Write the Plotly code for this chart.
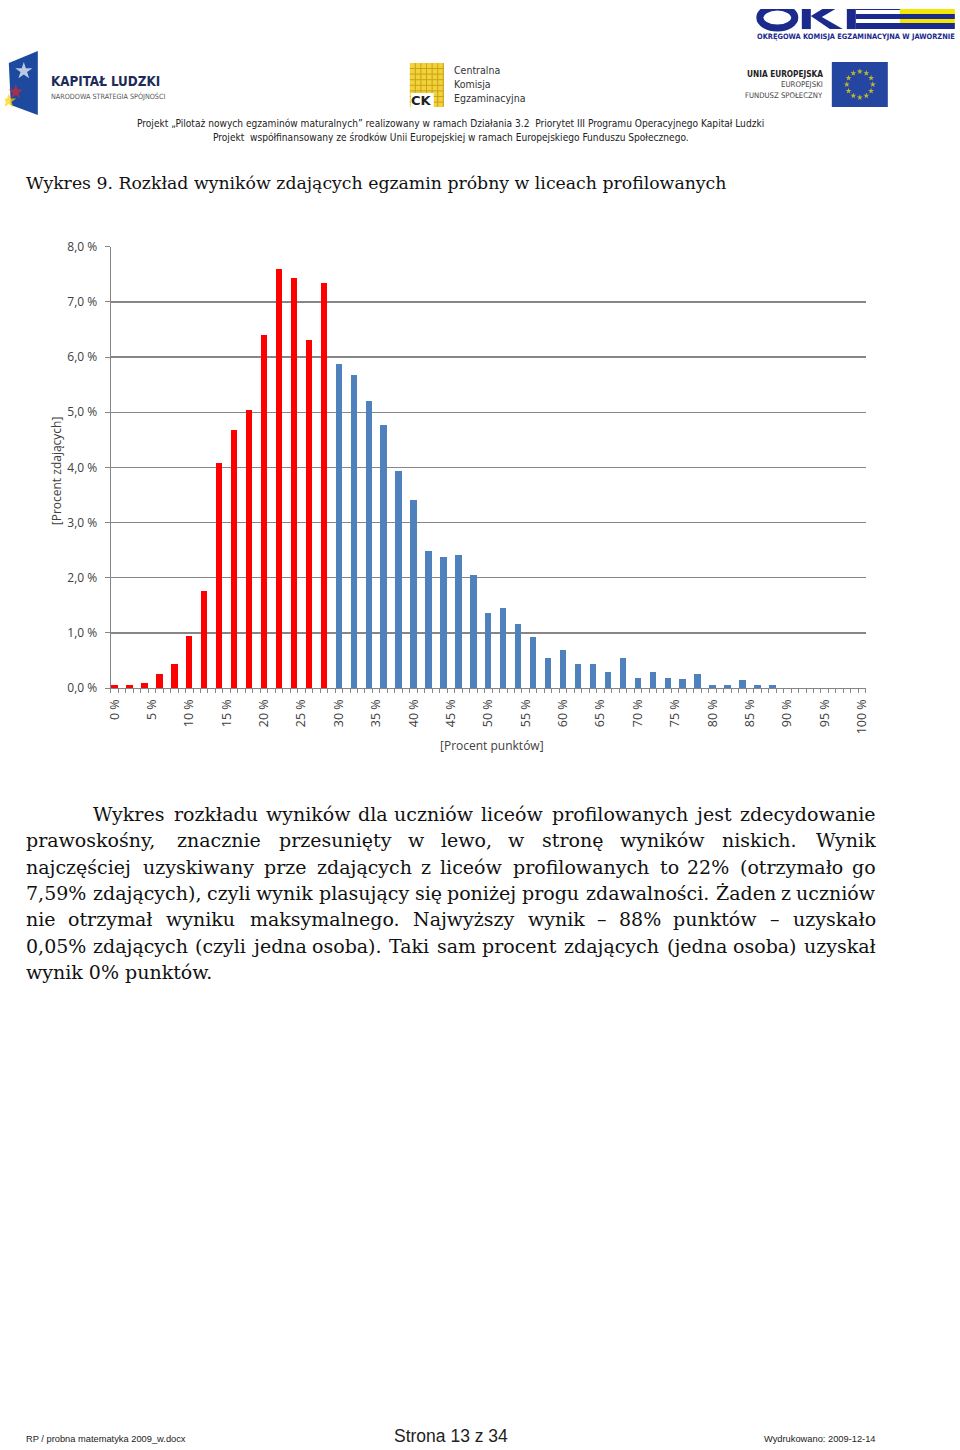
import numpy as np
import plotly.graph_objects as go

# ---------------- data ----------------
procent_punktow = list(range(0, 101, 2))
procent_zdajacych = [
    0.05, 0.05, 0.10, 0.25, 0.44, 0.94, 1.76, 4.08, 4.68, 5.05, 6.40, 7.59, 7.43, 6.31, 7.34,
    5.88, 5.68, 5.20, 4.77, 3.93, 3.41, 2.48, 2.38, 2.42, 2.05,
    1.36, 1.45, 1.17, 0.93, 0.54, 0.69, 0.43, 0.43, 0.30, 0.54,
    0.19, 0.30, 0.19, 0.16, 0.25, 0.05, 0.05, 0.15, 0.05, 0.05,
    0, 0, 0, 0, 0, 0,
]
prog_zdawalnosci = 30
x_tick_vals = list(range(0, 101, 5))
x_tick_text = [f"{v} %" for v in x_tick_vals]
y_tick_vals = list(range(0, 9))
y_tick_text = [f"{v},0 %" for v in y_tick_vals]

title_text = "Wykres 9. Rozkład wyników zdających egzamin próbny w liceach profilowanych"
y_title = "[Procent zdających]"
x_title = "[Procent punktów]"
paragraph = [
    "Wykres rozkładu wyników dla uczniów liceów profilowanych jest zdecydowanie",
    "prawoskośny, znacznie przesunięty w lewo, w stronę wyników niskich. Wynik",
    "najczęściej uzyskiwany prze zdających z liceów profilowanych to 22% (otrzymało go",
    "7,59% zdających), czyli wynik plasujący się poniżej progu zdawalności. Żaden z uczniów",
    "nie otrzymał wyniku maksymalnego. Najwyższy wynik – 88% punktów – uzyskało",
    "0,05% zdających (czyli jedna osoba). Taki sam procent zdających (jedna osoba) uzyskał",
    "wynik 0% punktów.",
]

RED = "#FF0000"
BLUE = "#4F81BD"
GRID = "#868686"
AX_TXT = "#404040"
CHART_FONT = "Open Sans, Lato, sans-serif"
SERIF = "DejaVu Serif, serif"
NARROW = "Liberation Sans Narrow, DejaVu Sans Condensed, sans-serif"

W, H = 960, 1450
# mapping of page pixels to picture pixels observed in the viewer (small frame)
AX_, SX_ = 5.2, 0.9906
AY_, SY_ = 7.9, 0.9897


def fx(ref_x):
    return (ref_x - AX_) / SX_ / W


def fy(ref_y):
    return 1 - (ref_y - AY_) / SY_ / H


colors = [RED if p < prog_zdawalnosci else BLUE for p in procent_punktow]

fig = go.Figure()
fig.add_trace(go.Bar(
    x=procent_punktow, y=procent_zdajacych, marker=dict(color=colors, line=dict(width=0)),
    width=0.85, showlegend=False, hoverinfo="x+y",
))

annotations = []
shapes = []


def ann(x, y, text, size, color="#111", family=SERIF, xanchor="left", yanchor="middle", textangle=0, bold=False):
    t = f"<b>{text}</b>" if bold else text
    annotations.append(dict(
        x=x, y=y, xref="x2", yref="y2", text=t, showarrow=False, xanchor=xanchor, yanchor=yanchor,
        textangle=textangle, font=dict(size=size, color=color, family=family), borderpad=0,
    ))


def rect(x0, y0, x1, y1, fill):
    shapes.append(dict(type="rect", xref="x2", yref="y2", x0=x0, y0=y0, x1=x1, y1=y1,
                       fillcolor=fill, line=dict(width=0), layer="below"))


def path(d, fill):
    shapes.append(dict(type="path", xref="x2", yref="y2", path=d, fillcolor=fill,
                       line=dict(width=0), layer="below"))


# ---------------- header logos ----------------
OKE_BLUE = "#1B2A8C"
OKE_YEL = "#F3E600"
rect(900, 8, 955, 26, OKE_YEL)
shapes.append(dict(type="circle", xref="x2", yref="y2", x0=760, y0=6, x1=795, y1=27,
                   fillcolor="white", line=dict(color=OKE_BLUE, width=7), layer="below"))
rect(802, 4, 811, 28, OKE_BLUE)
path("M 811 15 L 829 4 L 842 4 L 822 16 L 843 28 L 830 28 Z", OKE_BLUE)
rect(847, 4, 856, 28, OKE_BLUE)
rect(856, 4, 900, 9, OKE_BLUE)
rect(856, 13, 955, 18, OKE_BLUE)
rect(856, 22, 955, 28, OKE_BLUE)
ann(856, 35, "OKRĘGOWA KOMISJA EGZAMINACYJNA W JAWORZNIE", 7.4, OKE_BLUE, NARROW, xanchor="center", bold=True)

# Kapitał Ludzki logo
KL_BLUE = "#1D4A9E"
path("M 9 62 L 38 50 L 38 114 L 11 104 Z", KL_BLUE)
ann(50, 81, "KAPITAŁ LUDZKI", 13.3, "#1C2B5A", NARROW, bold=True)
ann(50, 96, "NARODOWA STRATEGIA SPÓJNOŚCI", 7.2, "#555555", NARROW)

# CKE logo
rect(410, 62, 444, 106, "#F2D23A")
for gx in np.arange(415.5, 444, 5.6):
    shapes.append(dict(type="line", xref="x2", yref="y2", x0=gx, x1=gx, y0=62, y1=106,
                       line=dict(color="#C9A21A", width=1), layer="below"))
for gy in np.arange(67.5, 106, 5.6):
    shapes.append(dict(type="line", xref="x2", yref="y2", x0=410, x1=444, y0=gy, y1=gy,
                       line=dict(color="#C9A21A", width=1), layer="below"))
rect(411, 92, 434, 106, "white")
ann(422, 99.5, "CK", 13, "#222222", "DejaVu Sans, sans-serif", xanchor="center", bold=True)
ann(453, 69, "Centralna", 10.5, "#333333", NARROW)
ann(453, 83, "Komisja", 10.5, "#333333", NARROW)
ann(453, 97, "Egzaminacyjna", 10.5, "#333333", NARROW)

# EU logo
ann(824, 73, "UNIA EUROPEJSKA", 8.2, "#222222", NARROW, xanchor="right", bold=True)
ann(824, 84, "EUROPEJSKI", 7.8, "#444444", NARROW, xanchor="right")
ann(824, 95, "FUNDUSZ SPOŁECZNY", 7.7, "#444444", NARROW, xanchor="right")
rect(832, 61, 888, 106, "#2446A0")

# project lines
ann(451, 123, "Projekt „Pilotaż nowych egzaminów maturalnych” realizowany w ramach Działania 3.2&nbsp; Priorytet III Programu Operacyjnego Kapitał Ludzki",
    10.1, "#222222", NARROW, xanchor="center")
ann(451, 137, "Projekt&nbsp; współfinansowany ze środków Unii Europejskiej w ramach Europejskiego Funduszu Społecznego.",
    10.1, "#222222", NARROW, xanchor="center")

# decorative stars (KL + EU flag)
ang = np.linspace(0, 2 * np.pi, 13)[:-1]
star_x = list(860 + 13 * np.cos(ang)) + [24, 16, 9]
star_y = list(83.5 + 13 * np.sin(ang)) + [70, 91, 100]
star_c = ["#FFE500"] * 12 + ["white", "#E3242B", "#FFD200"]
star_s = [4.5] * 12 + [13, 11, 11]
fig.add_trace(go.Scatter(x=star_x, y=star_y, xaxis="x2", yaxis="y2", mode="markers",
                         marker=dict(symbol="star", color=star_c, size=star_s, line=dict(width=0)),
                         showlegend=False, hoverinfo="skip"))

# ---------------- title ----------------
ann(25, 182, title_text, 17.3, "#111111", SERIF)

# ---------------- axis titles ----------------
ann(57, 470, y_title, 12, AX_TXT, CHART_FONT, xanchor="center", textangle=-90)
ann(492, 745, x_title, 12, AX_TXT, CHART_FONT, xanchor="center")

# ---------------- paragraph ----------------
CW = {' ': 0.318, ',': 0.318, '.': 0.318, '(': 0.39, ')': 0.39, '%': 0.95, '–': 0.5,
      'i': 0.32, 'l': 0.32, 'j': 0.32, 'ł': 0.34, 'f': 0.37, 't': 0.40, 'r': 0.48,
      's': 0.51, 'ś': 0.51, 'z': 0.53, 'ż': 0.53, 'm': 0.95, 'w': 0.86, 'y': 0.565,
      'v': 0.565, 'x': 0.565, 'k': 0.61, 'c': 0.56, 'ć': 0.56, 'e': 0.59, 'ę': 0.59,
      'a': 0.6, 'ą': 0.6, 'o': 0.6, 'ó': 0.6, 'n': 0.644, 'ń': 0.644, 'u': 0.644,
      'h': 0.644, 'p': 0.64, 'b': 0.64, 'd': 0.64, 'g': 0.64, 'q': 0.64, 'W': 1.1, 'N': 0.75}
CW_SCALE = 1.03


def char_w(ch):
    if ch in CW:
        v = CW[ch]
    elif ch.isdigit():
        v = 0.636
    elif ch.isupper():
        v = 0.73
    else:
        v = 0.6
    return v * CW_SCALE


P_SIZE = 19
P_X0, P_X1 = 25, 877
line_y = [814, 840, 867, 893, 919, 946, 972]


def justify(text, x0, x1, y, size):
    words = text.split(" ")
    ws = [sum(char_w(c) for c in w) * size for w in words]
    gap = (x1 - x0 - sum(ws)) / (len(words) - 1)
    x = x0
    for i, (w, wd) in enumerate(zip(words, ws)):
        if i == 0:
            ann(x0, y, w, size, "#111111", SERIF, xanchor="left")
        elif i == len(words) - 1:
            ann(x1, y, w, size, "#111111", SERIF, xanchor="right")
        else:
            ann(x + wd / 2, y, w, size, "#111111", SERIF, xanchor="center")
        x += wd + gap


for i, (txt, y) in enumerate(zip(paragraph, line_y)):
    x0 = 92 if i == 0 else P_X0
    if i < len(paragraph) - 1:
        justify(txt, x0, P_X1, y, P_SIZE)
    else:
        ann(x0, y, txt, P_SIZE, "#111111", SERIF)

# ---------------- footer ----------------
FOOT = "Liberation Sans, Arial, sans-serif"
ann(25, 1439.5, "RP / probna matematyka 2009_w.docx", 9.3, "#222222", FOOT)
ann(451, 1436.5, "Strona 13 z 34", 17.5, "#222222", FOOT, xanchor="center")
ann(877, 1439.5, "Wydrukowano: 2009-12-14", 9.3, "#222222", FOOT, xanchor="right")

# ---------------- layout ----------------
y_bot, y_top = 688, 246
x_left, x_right = 111, 866
fig.update_layout(
    width=W, height=H, margin=dict(l=0, r=0, t=0, b=0),
    paper_bgcolor="white", plot_bgcolor="rgba(0,0,0,0)",
    bargap=0, showlegend=False,
    xaxis=dict(
        domain=[fx(x_left), fx(x_right)], range=[-0.5, 100.5], tickmode="array",
        tickvals=x_tick_vals, ticktext=x_tick_text, tickangle=-90, ticks="",
        tickfont=dict(size=12.5, color=AX_TXT, family=CHART_FONT),
        showline=True, linecolor=GRID, linewidth=1.2, showgrid=False, zeroline=False,
        minor=dict(ticks="outside", tick0=-0.5, dtick=1, ticklen=4, tickcolor=GRID, tickwidth=1),
        ticklabelstandoff=5, fixedrange=True,
    ),
    yaxis=dict(
        domain=[fy(y_bot), fy(y_top)], range=[0, 8], tickmode="array",
        tickvals=y_tick_vals, ticktext=y_tick_text, ticks="outside", ticklen=5,
        tickcolor=GRID, tickwidth=1, showgrid=True, gridcolor=GRID, gridwidth=1.3,
        showline=True, linecolor=GRID, linewidth=1.2, zeroline=False,
        tickfont=dict(size=12, color=AX_TXT, family=CHART_FONT), ticklabelstandoff=5,
        fixedrange=True,
    ),
    xaxis2=dict(domain=[0, 1], range=[AX_, AX_ + W * SX_], visible=False, anchor="y2", fixedrange=True),
    yaxis2=dict(domain=[0, 1], range=[AY_ + H * SY_, AY_], visible=False, anchor="x2", fixedrange=True),
    annotations=annotations, shapes=shapes,
)

fig.write_html("out.html", config={"displayModeBar": False, "staticPlot": True},
               post_script="document.body.style.margin='0';document.body.style.overflow='hidden';")
